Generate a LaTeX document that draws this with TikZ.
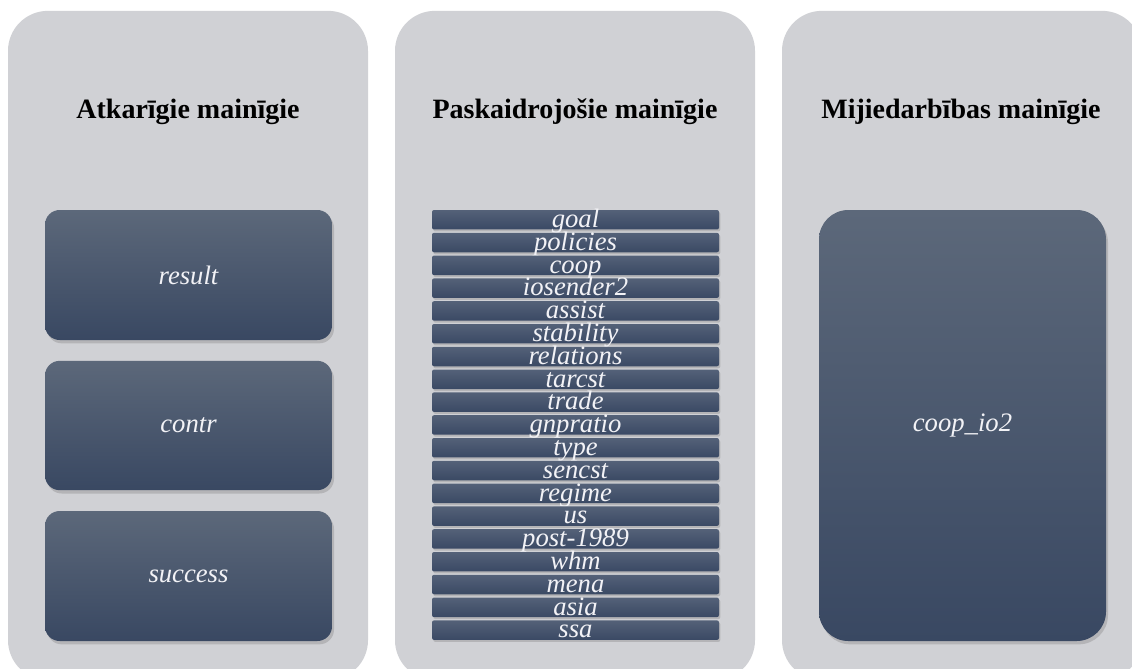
\documentclass[tikz,border=0pt]{standalone}
\usepackage{fontspec}
\setmainfont{Liberation Serif}
\usetikzlibrary{shadows}
\definecolor{panel}{RGB}{208,209,213}
\definecolor{boxtop}{RGB}{92,104,122}
\definecolor{boxbot}{RGB}{57,72,98}
\definecolor{striptop}{RGB}{84,97,120}
\definecolor{stripbot}{RGB}{58,73,100}
\definecolor{txt}{RGB}{242,242,246}
\begin{document}
\begin{tikzpicture}[x=0.75pt,y=-0.75pt,
 panelbox/.style={draw=none, fill=panel, rounded corners=30pt, minimum width=270pt, minimum height=502pt, inner sep=0},
 title/.style={font=\bfseries\fontsize{21}{24}\selectfont, anchor=base},
 varbox/.style={rounded corners=11pt, top color=boxtop, bottom color=boxbot, minimum width=215.25pt, inner sep=0, text=txt, font=\itshape\fontsize{20}{24}\selectfont, drop shadow={shadow xshift=1.5pt, shadow yshift=-2.5pt, opacity=0.35}},
 stripbox/.style={rounded corners=1.5pt, top color=striptop, bottom color=stripbot, minimum width=215.25pt, minimum height=14.6pt, text height=13.1pt, text depth=1.5pt, inner sep=0, text=txt, font=\itshape\fontsize{20}{24}\selectfont, drop shadow={shadow xshift=1pt, shadow yshift=-1.5pt, opacity=0.35}}]
\useasboundingbox (0,0) rectangle (1132,668);
\fill[white] (0,0) rectangle (1132,668);
% panels
\node[panelbox] (p1) at (188,345.5) {};
\node[panelbox] (p2) at (575,345.5) {};
\node[panelbox] (p3) at (962,345.5) {};
% titles
\node[title] (h1) at (188,118) {Atkarīgie mainīgie};
\node[title] (h2) at (575,118) {Paskaidrojošie mainīgie};
\node[title] (h3) at (961,118) {Mijiedarbības mainīgie};
% panel 1
\node[varbox, minimum height=97.5pt] (result) at (188.5,275) {result};
\node[varbox, minimum height=97pt] (contr) at (188.5,425.5) {contr};
\node[varbox, minimum height=97.5pt] (success) at (188.5,576) {success};
% panel 2
\foreach \t [count=\i from 0] in {goal,policies,coop,iosender2,assist,stability,relations,tarcst,trade,gnpratio,type,sencst,regime,us,post-1989,whm,mena,asia,ssa}
  \node[stripbox] (s\i) at (575.5,{219.75+22.8*\i}) {\t};
% panel 3
\node[varbox, rounded corners=22pt, minimum height=323.25pt] (coop) at (962.5,425.5) {coop\_io2};
\end{tikzpicture}
\end{document}
